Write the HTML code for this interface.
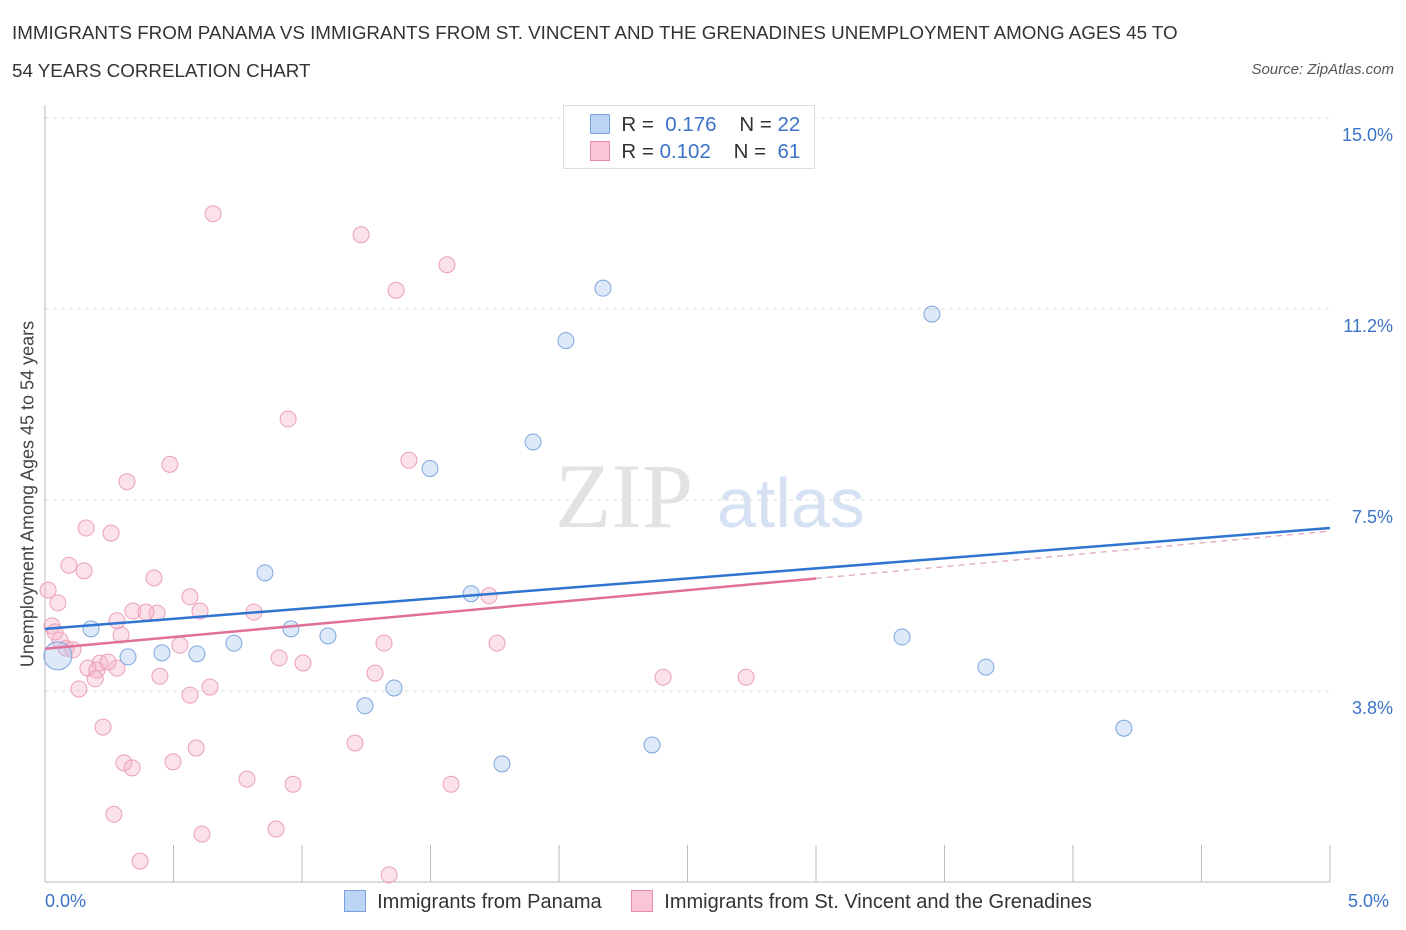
<!DOCTYPE html>
<html><head><meta charset="utf-8"><style>
body{margin:0;background:#fff;font-family:"Liberation Sans",sans-serif;}
#wrap{position:relative;width:1406px;height:930px;overflow:hidden;}
.t{position:absolute;white-space:nowrap;}
</style></head><body>
<div id="wrap">
<div class="t" style="left:12px;top:14px;font-size:18.8px;color:#333;line-height:38px;">IMMIGRANTS FROM PANAMA VS IMMIGRANTS FROM ST. VINCENT AND THE GRENADINES UNEMPLOYMENT AMONG AGES 45 TO<br>54 YEARS CORRELATION CHART</div>
<div class="t" style="right:12px;top:61px;font-size:15px;color:#555;font-style:italic;">Source: ZipAtlas.com</div>
<svg id="svg" width="1406" height="930" style="position:absolute;left:0;top:0"></svg>
</div>
<script>
const xTicks=[0,0.5,1,1.5,2,2.5,3,3.5,4,4.5,5];
const yTicks=[3.75,7.5,11.25,15];
const yTickLabels=["3.8%","7.5%","11.2%","15.0%"];
const panamaX=[0.179,0.323,0.455,0.591,0.735,0.856,0.957,1.101,1.245,1.358,1.498,1.658,1.778,1.899,2.027,2.171,2.362,3.335,3.451,3.661,4.198,0.05];
const panamaY=[4.97,4.42,4.50,4.48,4.69,6.07,4.97,4.83,3.46,3.81,8.12,5.66,2.32,8.64,10.63,11.66,2.69,4.81,11.15,4.22,3.02,4.44];
const vincentX=[0.654,1.23,1.564,1.366,0.946,0.486,1.416,0.319,0.160,0.257,0.093,0.152,0.424,0.012,0.05,0.564,0.603,0.342,0.436,0.393,0.813,0.280,0.027,0.296,0.525,0.058,0.082,0.109,0.214,0.167,0.202,0.280,0.447,0.195,0.132,0.642,0.564,0.911,1.004,1.284,1.319,1.759,1.728,2.405,2.728,0.226,1.206,0.588,0.307,0.498,0.339,0.786,0.965,1.580,0.268,0.899,0.611,0.370,1.339,0.245,0.039];
const vincentY=[13.12,12.71,12.12,11.62,9.09,8.2,8.28,7.86,6.95,6.85,6.22,6.11,5.97,5.73,5.48,5.6,5.32,5.32,5.28,5.30,5.30,5.13,5.03,4.85,4.65,4.75,4.59,4.56,4.30,4.20,4.16,4.20,4.04,3.99,3.79,3.83,3.67,4.40,4.30,4.10,4.69,4.69,5.62,4.02,4.02,3.04,2.73,2.63,2.34,2.36,2.24,2.02,1.92,1.92,1.33,1.04,0.94,0.41,0.14,4.32,4.91];
const lineBlue=[[0,4.97],[5,6.95]];
const linePinkSolid=[[0,4.58],[3,5.96]];
const linePinkDash=[[3,5.96],[5,6.89]];
const X=v=>45+v*257, Y=v=>882-v*50.93;
const svg=document.getElementById('svg');const NS='http://www.w3.org/2000/svg';
function mk(tag,attrs,name){const e=document.createElementNS(NS,tag);for(const k in attrs)e.setAttribute(k,attrs[k]);


svg.appendChild(e);return e;}
yTicks.forEach((t,i)=>{mk('line',{x1:45,x2:1330,y1:Y(t),y2:Y(t),stroke:'#ddd','stroke-dasharray':'4,4'},'gridline');
const tx=mk('text',{x:1393,y:Y(t)+23,'text-anchor':'end','font-size':18,fill:'#3b73c8'},'y-tick-label');tx.textContent=yTickLabels[i];});
mk('line',{x1:45,x2:1330,y1:882,y2:882,stroke:'#bbb'},'x-axis');
mk('line',{x1:45,x2:45,y1:105,y2:882,stroke:'#bbb'},'y-axis');
xTicks.forEach(t=>mk('line',{x1:X(t),x2:X(t),y1:845,y2:882,stroke:'#bbb'},'x-tick'));
const wm=mk('text',{x:555,y:527,'font-size':92,fill:'#e2e2e2','font-family':'Liberation Serif'},'watermark-zip');wm.textContent='ZIP';
const wm2=mk('text',{x:717,y:527,'font-size':70,fill:'#d6e2f3'},'watermark-atlas');wm2.textContent='atlas';
vincentX.forEach((v,i)=>mk('circle',{cx:X(v),cy:Y(vincentY[i]),r:8,fill:'rgba(246,180,202,0.4)',stroke:'#eba0ba','stroke-width':1},'vincent-point'));
panamaX.forEach((v,i)=>mk('circle',{cx:X(v),cy:Y(panamaY[i]),r:i==21?14:8,fill:'rgba(170,200,240,0.4)',stroke:'#7ea6dc','stroke-width':1},'panama-point'));
mk('line',{x1:X(lineBlue[0][0]),y1:Y(lineBlue[0][1]),x2:X(lineBlue[1][0]),y2:Y(lineBlue[1][1]),stroke:'#2f74d0','stroke-width':2.5},'panama-trendline');
mk('line',{x1:X(linePinkSolid[0][0]),y1:Y(linePinkSolid[0][1]),x2:X(linePinkSolid[1][0]),y2:Y(linePinkSolid[1][1]),stroke:'#e0709a','stroke-width':2.5},'vincent-trendline');
mk('line',{x1:X(linePinkDash[0][0]),y1:Y(linePinkDash[0][1]),x2:X(linePinkDash[1][0]),y2:Y(linePinkDash[1][1]),stroke:'#e0a0b8','stroke-width':1.2,'stroke-dasharray':'6,5'},'vincent-trendline-extension');
</script>
<div class="t" style="left:28px;top:494px;font-size:18px;color:#444;transform:translate(-50%,-50%) rotate(-90deg);">Unemployment Among Ages 45 to 54 years</div>
<div class="t" style="left:45px;top:891px;font-size:18px;color:#3b73c8;">0.0%</div>
<div class="t" style="left:1348px;top:891px;font-size:18px;color:#3b73c8;">5.0%</div>
<div style="position:absolute;left:563px;top:105px;width:250px;height:62px;border:1px solid #ddd;background:#fff;font-size:20.5px;color:#333;">
<div style="position:absolute;left:26px;top:7px;white-space:nowrap;"><span style="display:inline-block;width:18px;height:18px;background:#bcd4f5;border:1px solid #7aa3dc;vertical-align:-3px;"></span>&nbsp; R = &nbsp;<span style="color:#3b73c8">0.176</span>&nbsp;&nbsp;&nbsp; N = <span style="color:#3b73c8">22</span></div>
<div style="position:absolute;left:26px;top:34px;white-space:nowrap;"><span style="display:inline-block;width:18px;height:18px;background:#f8c6d6;border:1px solid #e88aaa;vertical-align:-3px;"></span>&nbsp; R = <span style="color:#3b73c8">0.102</span>&nbsp;&nbsp;&nbsp; N = &nbsp;<span style="color:#3b73c8">61</span></div>
</div>
<div style="position:absolute;left:344px;top:890px;font-size:20px;color:#333;white-space:nowrap;">
<span style="display:inline-block;width:20px;height:20px;background:#bcd4f5;border:1px solid #7aa3dc;vertical-align:-4px;"></span>&nbsp; Immigrants from Panama
<span style="display:inline-block;width:20px;height:20px;background:#f8c6d6;border:1px solid #e88aaa;vertical-align:-4px;margin-left:24px;"></span>&nbsp; Immigrants from St. Vincent and the Grenadines</div>
</body></html>
